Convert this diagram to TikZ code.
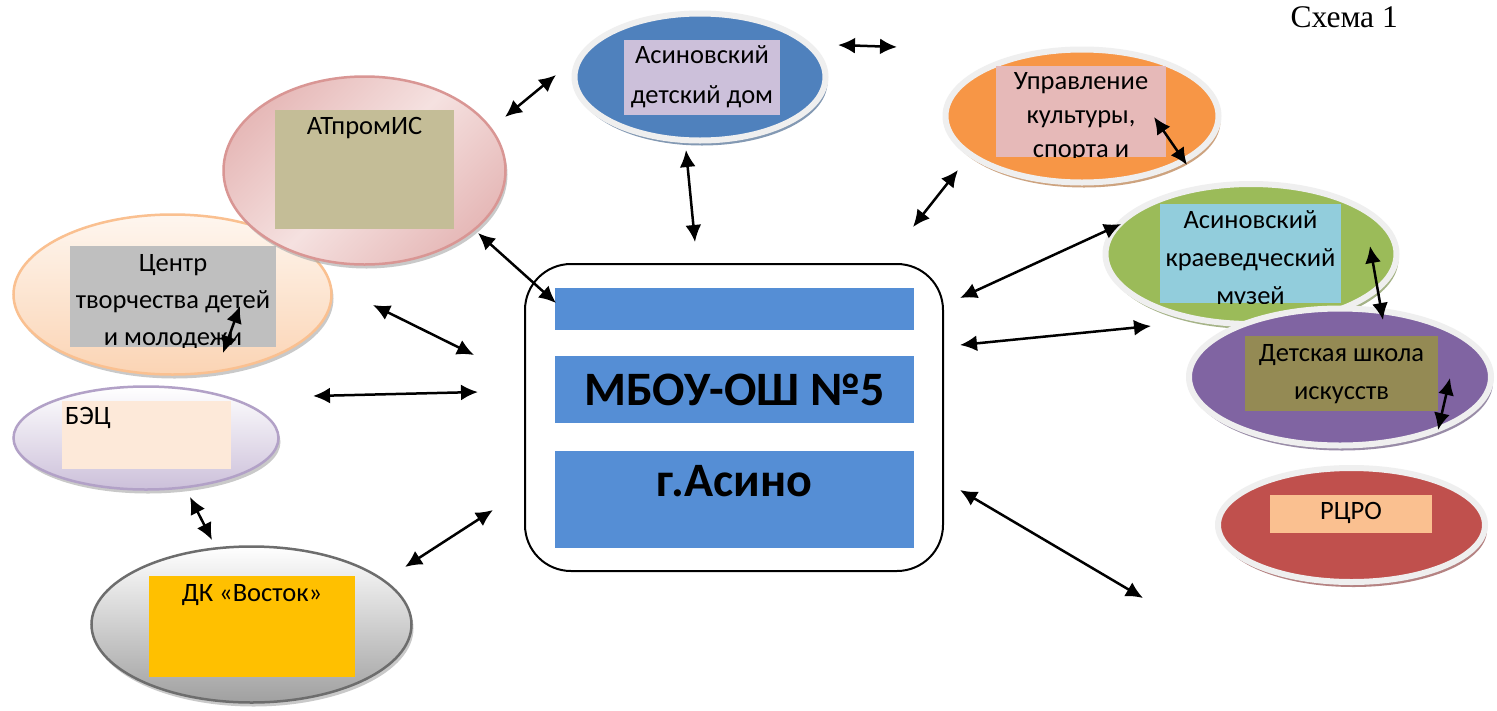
\documentclass[tikz,border=0pt]{standalone}
\usepackage{fontspec}
\setmainfont{Carlito}
\newfontfamily\timesfont{Liberation Serif}
\usepackage{tikz}
\usetikzlibrary{shapes.geometric, arrows.meta, shadows}

\definecolor{RimGray}{HTML}{EFEFEF}
\definecolor{DomBlue}{HTML}{4F81BD}
\definecolor{DomLilac}{HTML}{CCC0DA}
\definecolor{CultOrange}{HTML}{F79646}
\definecolor{CultPink}{HTML}{E6B9B8}
\definecolor{MuseumGreen}{HTML}{9BBB59}
\definecolor{MuseumCyan}{HTML}{92CDDC}
\definecolor{ArtPurple}{HTML}{8064A2}
\definecolor{ArtOlive}{HTML}{948A54}
\definecolor{RcroRed}{HTML}{C0504D}
\definecolor{RcroPeach}{HTML}{FAC090}
\definecolor{BarBlue}{HTML}{558ED5}
\definecolor{BecLine}{HTML}{B2A1C7}
\definecolor{BecFill}{HTML}{CCC0DA}
\definecolor{BecBox}{HTML}{FDE9D9}
\definecolor{CentrLine}{HTML}{FAC090}
\definecolor{CentrTop}{HTML}{FEF6EF}
\definecolor{CentrBottom}{HTML}{FBD4B4}
\definecolor{CentrBox}{HTML}{BFBFBF}
\definecolor{AtpLine}{HTML}{D99694}
\definecolor{AtpDark}{HTML}{E6B9B8}
\definecolor{AtpLight}{HTML}{F5E1E0}
\definecolor{AtpBox}{HTML}{C4BD97}
\definecolor{DkLine}{HTML}{6D6D6D}
\definecolor{DkBottom}{HTML}{A0A0A0}
\definecolor{DkBox}{HTML}{FFC000}

\begin{document}
\begin{tikzpicture}[x=1pt, y=-1pt,
  rimmed/.style={ellipse, fill=#1, draw=RimGray, line width=6pt, inner sep=0pt,
    drop shadow={shadow xshift=2pt, shadow yshift=-5pt, fill=#1!55!gray, opacity=.8}},
  shaded/.style={ellipse, line width=2.5pt, inner sep=0pt,
    drop shadow={shadow xshift=2pt, shadow yshift=-4pt, fill=gray!70, opacity=.6}},
  tbox/.style={rectangle, fill=#1, inner sep=0pt},
  lbl/.style={font=\fontsize{26.5}{#1}\selectfont, align=center, inner sep=0pt},
  lbl/.default=40,
  bar/.style={rectangle, fill=BarBlue, minimum width=359pt, inner sep=0pt, font=\fontsize{48}{52}\selectfont\bfseries},
  link/.style={{Latex[length=17pt,width=16pt]}-{Latex[length=17pt,width=16pt]}, line width=2.5pt}
]
  \useasboundingbox[fill=white] (0,0) rectangle (1497,710);

  \node[font=\timesfont\fontsize{31.5}{34}\selectfont, anchor=base east, inner sep=0pt] (schemeNo) at (1398,27) {Схема 1};

  % left side
  \node[shaded, draw=BecLine, top color=white, bottom color=BecFill, minimum width=265pt, minimum height=103pt] (bec) at (146,438) {};
  \node[tbox=BecBox, minimum width=169pt, minimum height=68pt] (becBox) at (146.5,435) {};
  \node[lbl, anchor=west] (becText) at (65,418) {БЭЦ};

  \node[shaded, draw=CentrLine, top color=CentrTop, bottom color=CentrBottom, minimum width=318pt, minimum height=160pt] (centr) at (172.5,294.5) {};
  \node[tbox=CentrBox, minimum width=206pt, minimum height=101pt] (centrBox) at (173,296.5) {};
  \begin{scope}
    \clip (centrBox.north west) rectangle (centrBox.south east);
    \node[lbl=37] (centrText) at (173,302) {Центр\\творчества детей\\и молодежи};
  \end{scope}

  \node[shaded, draw=AtpLine, left color=AtpDark, right color=AtpDark, middle color=AtpLight, shading angle=45, minimum width=282pt, minimum height=188pt] (atprom) at (364.5,170.5) {};
  \node[tbox=AtpBox, minimum width=179pt, minimum height=119pt] (atpromBox) at (364.5,169.5) {};
  \node[lbl] (atpromText) at (364.5,128) {АТпромИС};

  \node[shaded, draw=DkLine, top color=white, bottom color=DkBottom, minimum width=320pt, minimum height=156pt] (dk) at (251.5,624.5) {};
  \node[tbox=DkBox, minimum width=206pt, minimum height=101pt] (dkBox) at (252,626.5) {};
  \node[lbl] (dkText) at (252,595) {ДК «Восток»};

  % top
  \node[rimmed=DomBlue, minimum width=251pt, minimum height=127pt] (dom) at (700,77) {};
  \node[tbox=DomLilac, minimum width=156pt, minimum height=75pt] (domBox) at (702,77.5) {};
  \node[lbl] (domText) at (702,77) {Асиновский\\детский дом};

  % right side
  \node[rimmed=CultOrange, minimum width=273pt, minimum height=133pt] (upr) at (1082,116) {};
  \node[tbox=CultPink, minimum width=170pt, minimum height=91pt] (uprBox) at (1081,111.5) {};
  \begin{scope}
    \clip (uprBox.north west) rectangle (uprBox.south east);
    \node[lbl=34] (uprText) at (1081,117) {Управление\\культуры,\\спорта и};
  \end{scope}

  \node[rimmed=MuseumGreen, minimum width=291pt, minimum height=140pt] (muz) at (1251,254) {};
  \node[tbox=MuseumCyan, minimum width=181pt, minimum height=99pt] (muzBox) at (1250.5,253.5) {};
  \begin{scope}
    \clip (muzBox.north west) rectangle (muzBox.south east);
    \node[lbl=38] (muzText) at (1250.5,260) {Асиновский\\краеведческий\\музей};
  \end{scope}

  \node[rimmed=ArtPurple, minimum width=302pt, minimum height=137pt] (dsh) at (1340,377) {};
  \node[tbox=ArtOlive, minimum width=193pt, minimum height=75pt] (dshBox) at (1341.5,373.5) {};
  \node[lbl=38] (dshText) at (1341.5,374) {Детская школа\\искусств};

  \node[rimmed=RcroRed, minimum width=267pt, minimum height=114pt] (rcro) at (1351.5,525) {};
  \node[tbox=RcroPeach, minimum width=162pt, minimum height=38pt] (rcroBox) at (1351,514) {};
  \node[lbl] (rcroText) at (1351,513) {РЦРО};

  % centre
  \node[draw, fill=white, line width=2pt, rounded corners=46pt, minimum width=418pt, minimum height=307pt] (school) at (734,417.5) {};
  \node[bar, minimum height=42pt] (barTop) at (734.5,309) {};
  \node[bar, minimum height=67pt] (barName) at (734.5,389.5) {МБОУ-ОШ №5};
  \node[bar, minimum height=97pt] (barCity) at (734.5,499.5) {};
  \node[font=\fontsize{48}{52}\selectfont\bfseries, inner sep=0pt] (cityText) at (734.5,481) {г.Асино};

  % arrow ends
  \coordinate (atpromNE) at (505,117);   \coordinate (domW) at (556,75);
  \coordinate (domE) at (838,45);        \coordinate (domFar) at (897,47);
  \coordinate (domS) at (686,150);       \coordinate (schoolN) at (695,242);
  \coordinate (schoolNE) at (913,227);   \coordinate (uprSW) at (958,170);
  \coordinate (atpromSE) at (478,233);   \coordinate (barTopW) at (556,303);
  \coordinate (centrE) at (373,305);     \coordinate (schoolW1) at (474,355);
  \coordinate (becE) at (313,396);       \coordinate (schoolW2) at (478,392);
  \coordinate (becS) at (190,497);       \coordinate (dkN) at (212,540);
  \coordinate (dkNE) at (405,567);       \coordinate (schoolSW) at (493,510);
  \coordinate (schoolE1) at (960,298);   \coordinate (muzW) at (1121,224);
  \coordinate (schoolE2) at (960,345);   \coordinate (muzSW) at (1151,326);
  \coordinate (schoolSE) at (960,490);   \coordinate (rcroFar) at (1143,598);
  \coordinate (uprIn) at (1154,117);     \coordinate (muzNW) at (1187,165);
  \coordinate (muzIn) at (1370,246);     \coordinate (dshN) at (1383,320);
  \coordinate (dshIn) at (1450,378);     \coordinate (dshS) at (1438,430);
  \coordinate (centrIn1) at (240,306);   \coordinate (centrIn2) at (223,353);

  \draw[link] (atpromNE) -- (domW);
  \draw[link] (domE) -- (domFar);
  \draw[link] (domS) -- (schoolN);
  \draw[link] (schoolNE) -- (uprSW);
  \draw[link] (atpromSE) -- (barTopW);
  \draw[link] (centrE) -- (schoolW1);
  \draw[link] (becE) -- (schoolW2);
  \draw[link] (becS) -- (dkN);
  \draw[link] (dkNE) -- (schoolSW);
  \draw[link] (schoolE1) -- (muzW);
  \draw[link] (schoolE2) -- (muzSW);
  \draw[link] (schoolSE) -- (rcroFar);
  \draw[link] (uprIn) -- (muzNW);
  \draw[link] (muzIn) -- (dshN);
  \draw[link] (dshIn) -- (dshS);
  \draw[link] (centrIn1) -- (centrIn2);
\end{tikzpicture}
\end{document}
